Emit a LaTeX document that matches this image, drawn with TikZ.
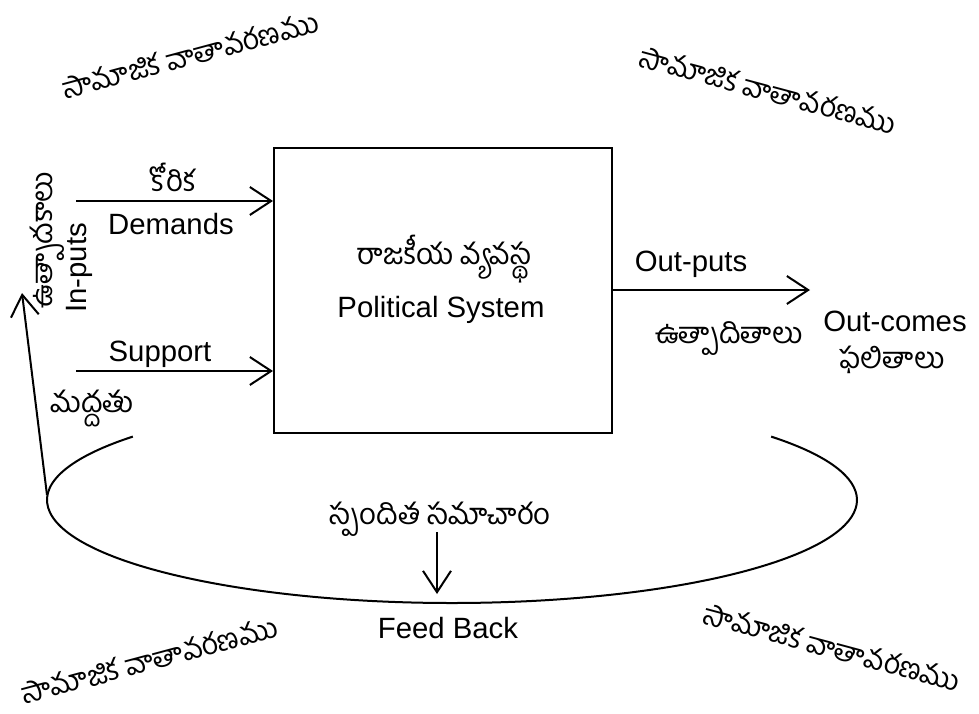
\documentclass[tikz,border=0pt]{standalone}
\usepackage{fontspec}
\setmainfont{Liberation Sans}
\newfontfamily\te[Script=Telugu]{Hind Guntur}
\usetikzlibrary{arrows.meta}
\begin{document}
\begin{tikzpicture}[x=0.75pt,y=-0.75pt,
  lbl/.style={font=\fontsize{22}{26}\selectfont, inner sep=0pt},
  tlbl/.style={font=\te\fontsize{22}{26}\selectfont, inner sep=0pt},
  env/.style={font=\te\fontsize{21.5}{26}\selectfont, inner sep=0pt},
  arr/.style={line width=1.5pt, -{Straight Barb[length=16pt,width=21pt,line width=1.5pt]}},
  sysbox/.style={draw, line width=1.5pt, minimum width=253.5pt, minimum height=213.75pt, inner sep=0pt}]
\useasboundingbox (0,0) rectangle (979,714);
% environment labels
\node[env, rotate=15] (env1) at (190,55) {సామాజిక వాతావరణము};
\node[env, rotate=-15] (env2) at (768,90) {సామాజిక వాతావరణము};
\node[env, rotate=15] (env3) at (149,660) {సామాజిక వాతావరణము};
\node[env, rotate=-15] (env4) at (832,647) {సామాజిక వాతావరణము};
% system box
\node[sysbox] (box) at (443,290.5) {};
\node[tlbl] (sys1) at (444,259) {రాజకీయ వ్యవస్థ};
\node[lbl] (sys2) at (441,310) {Political System};
% inputs
\coordinate (dstart) at (76,201);
\coordinate (sstart) at (76,371);
\draw[arr] (dstart) -- (dstart -| box.west);
\draw[arr] (sstart) -- (sstart -| box.west);
\node[tlbl] (kor) at (173,177) {కోరిక};
\node[lbl] (dem) at (171,224) {Demands};
\node[lbl] (sup) at (160,354) {Support};
\node[tlbl] (mad) at (92,408) {మద్దతు};
\node[tlbl, rotate=90] (utp) at (47,240) {ఉత్పాదకాలు};
\node[lbl, rotate=90] (inp) at (79,268) {In-puts};
% outputs
\coordinate (oend) at (810,290);
\draw[arr] (oend -| box.east) -- (oend);
\node[lbl] (outp) at (691,264) {Out-puts};
\node[tlbl] (utpd) at (729,339) {ఉత్పాదితాలు};
\node[lbl] (outc) at (895,321) {Out-comes};
\node[tlbl] (phal) at (892,360) {ఫలితాలు};
% feedback loop
\coordinate (ec) at (452,500);
\draw[line width=1.5pt] ([shift={(218:405 and 103)}]ec) arc[start angle=218, end angle=-38, x radius=405, y radius=103];
\coordinate (fbstart) at (47,495);
\coordinate (fbtip) at (22,293);
\draw[arr] (fbstart) -- (fbtip);
\node[tlbl] (spa) at (440,519) {స్పందిత సమాచారం};
\coordinate (fbtop) at (437,532);
\coordinate (fbbot) at (437,594);
\draw[arr] (fbtop) -- (fbbot);
\node[lbl] (fb) at (448,628) {Feed Back};
\end{tikzpicture}
\end{document}
